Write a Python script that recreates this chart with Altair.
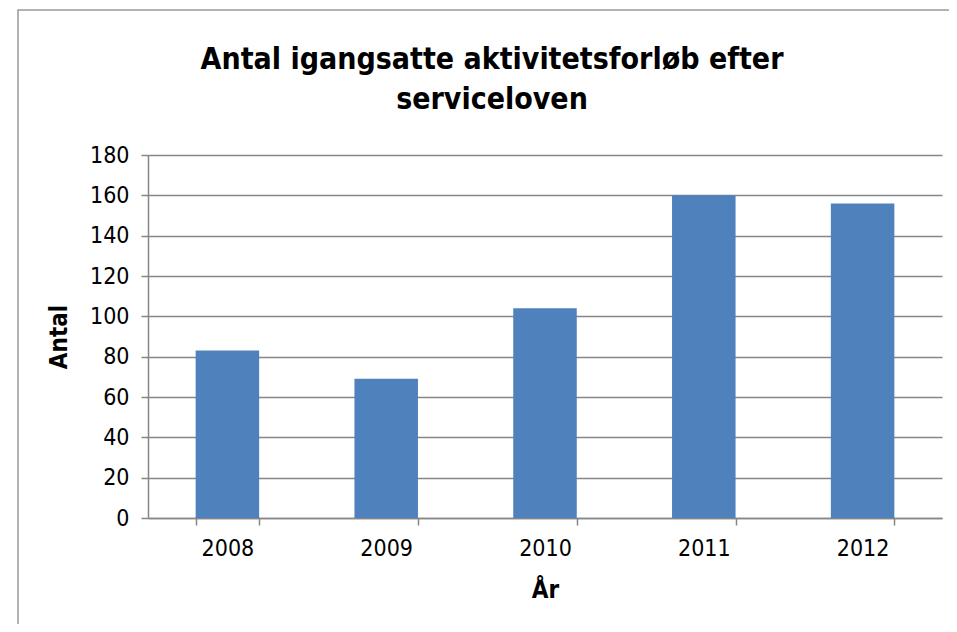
import altair as alt
import pandas as pd

years = ["2008", "2009", "2010", "2011", "2012"]
values = [83, 69, 104, 160, 156]
title_lines = ["Antal igangsatte aktivitetsforløb efter", "serviceloven"]

df = pd.DataFrame({"År": years, "Antal": values})

FONT = "Liberation Sans Narrow, Arial Narrow, DejaVu Sans Condensed, sans-serif"
AXC = "#868686"

bars = alt.Chart(df).mark_bar(color="#4F81BD").encode(
    x=alt.X("År:N", sort=years,
            scale=alt.Scale(paddingInner=0.6, paddingOuter=0.3),
            axis=alt.Axis(title="År", labelAngle=0, tickBand="extent",
                          labelFontSize=23, titleFontSize=24, titleFontWeight="bold",
                          labelPadding=12, titlePadding=18, tickSize=7,
                          domainColor=AXC, tickColor=AXC, domainWidth=1.5,
                          tickWidth=1.5, labelColor="#000", titleColor="#000",
                          labelFont=FONT, titleFont=FONT)),
    y=alt.Y("Antal:Q", scale=alt.Scale(domain=[0, 180]),
            axis=alt.Axis(title="Antal", values=list(range(0, 181, 20)),
                          labelFontSize=23, titleFontSize=24, titleFontWeight="bold",
                          labelPadding=12, titlePadding=18, tickSize=7,
                          domainColor=AXC, tickColor=AXC, domainWidth=1.5,
                          tickWidth=1.5, gridColor=AXC, gridWidth=1.5,
                          labelColor="#000", titleColor="#000",
                          labelFont=FONT, titleFont=FONT)),
)

border = alt.Chart(pd.DataFrame({"k": [0]})).mark_rect(
    fill="transparent", stroke="#9a9a9a", strokeWidth=1.5
).encode(x=alt.value(-130), x2=alt.value(808), y=alt.value(-145), y2=alt.value(530))

t1 = alt.Chart(pd.DataFrame({"t": [title_lines[0]]})).mark_text(
    font=FONT, fontSize=30, fontWeight="bold", color="#000", align="center", baseline="alphabetic"
).encode(text="t:N", x=alt.value(344), y=alt.value(-86))

t2 = alt.Chart(pd.DataFrame({"t": [title_lines[1]]})).mark_text(
    font=FONT, fontSize=30, fontWeight="bold", color="#000", align="center", baseline="alphabetic"
).encode(text="t:N", x=alt.value(344), y=alt.value(-46))

chart = alt.layer(border, bars, t1, t2).properties(
    width=794, height=363,
    autosize=alt.AutoSizeParams(type="none"),
    padding={"left": 140, "top": 147, "right": 7, "bottom": 106},
).configure_view(stroke=None)

chart.save("out.html", embed_options={"renderer": "svg", "actions": False})
